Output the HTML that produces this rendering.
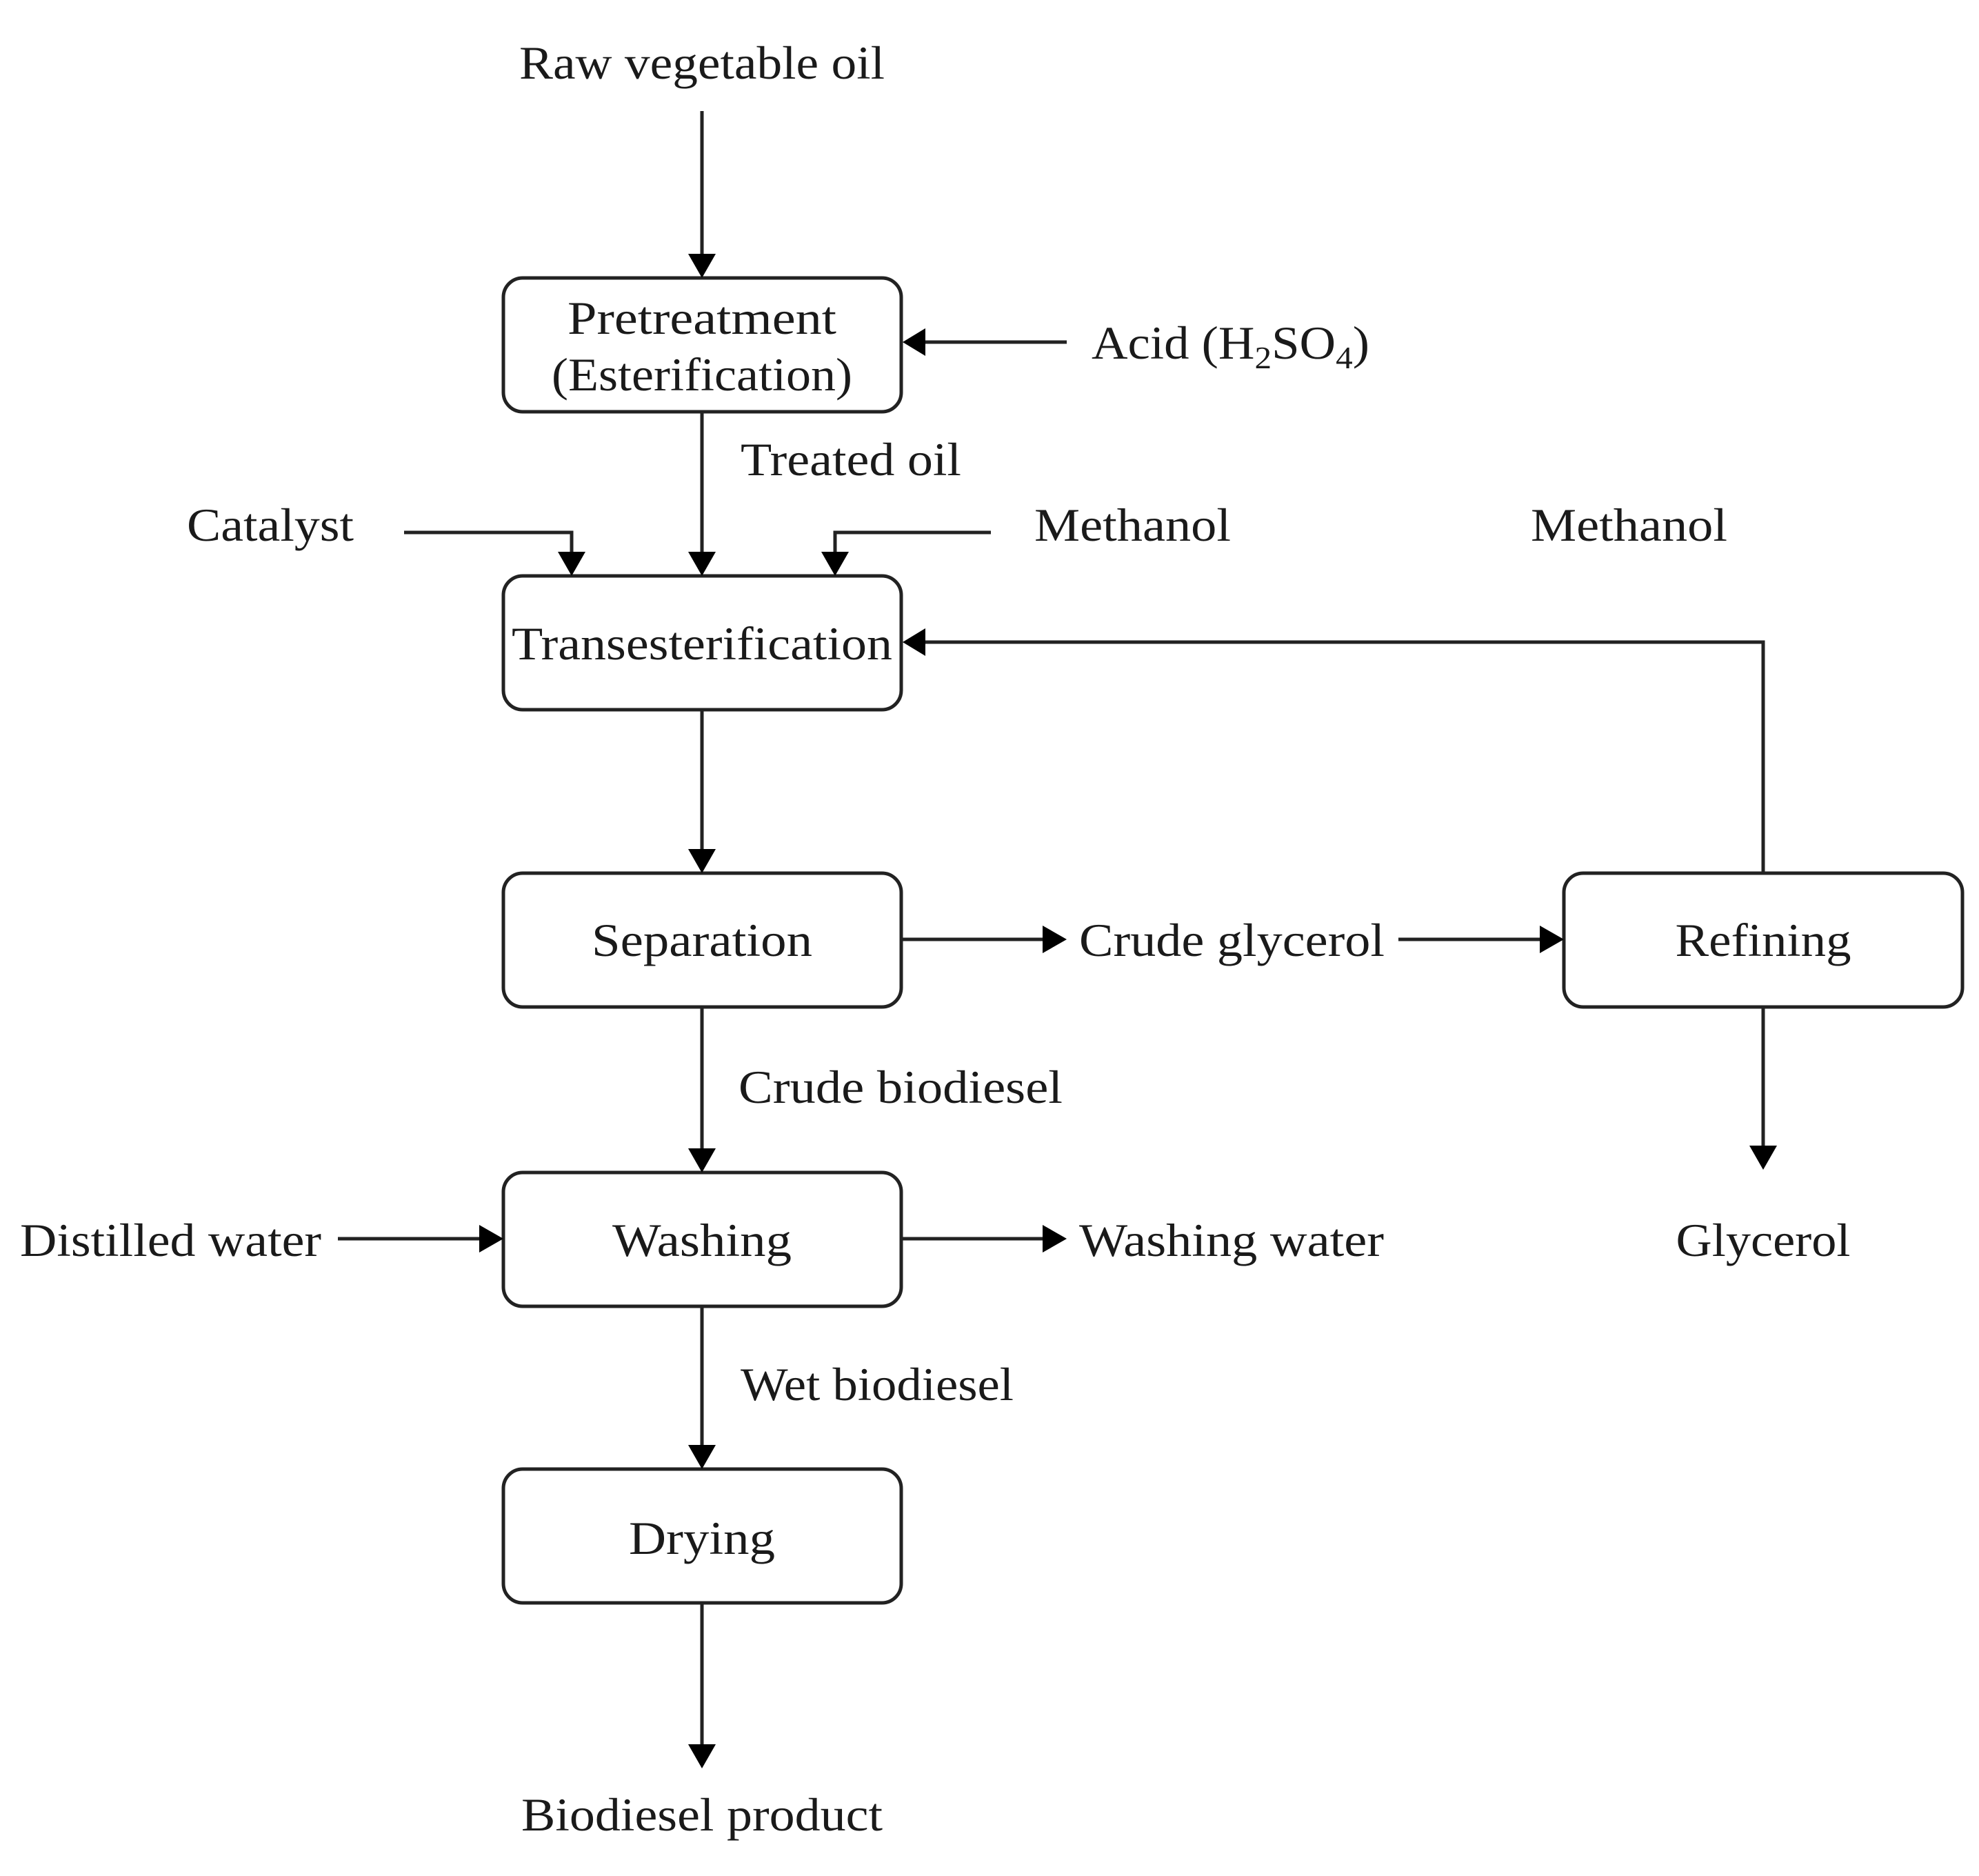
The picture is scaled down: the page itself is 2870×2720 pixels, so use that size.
<!DOCTYPE html>
<html><head><meta charset="utf-8"><style>
html,body{margin:0;padding:0;background:#fff}
svg{display:block}
text{font-family:"Liberation Serif",serif;font-size:68px;fill:#1a1a1a}
</style></head><body>
<svg width="2870" height="2720" viewBox="0 0 2870 2720" xmlns="http://www.w3.org/2000/svg">
<g fill="none" stroke="#222" stroke-width="5">
<rect x="730" y="403" width="577" height="194" rx="28"/>
<rect x="730" y="835" width="577" height="194" rx="28"/>
<rect x="730" y="1266" width="577" height="194" rx="28"/>
<rect x="730" y="1700" width="577" height="194" rx="28"/>
<rect x="730" y="2130" width="577" height="194" rx="28"/>
<rect x="2268" y="1266" width="578" height="194" rx="28"/>
<path d="M1018 161V372"/>
<path d="M1547 496H1340"/>
<path d="M1018 597V804"/>
<path d="M586 772H829V804"/>
<path d="M1437 772H1211V804"/>
<path d="M2557 1266V931H1340"/>
<path d="M1018 1029V1235"/>
<path d="M1307 1362H1516"/>
<path d="M2028 1362H2237"/>
<path d="M1018 1460V1669"/>
<path d="M2557 1460V1665"/>
<path d="M490 1796H699"/>
<path d="M1307 1796H1516"/>
<path d="M1018 1894V2099"/>
<path d="M1018 2324V2533"/>
</g>
<g fill="#000">
<path d="M998 368L1038 368L1018 403Z"/>
<path d="M1342 476L1342 516L1309 496Z"/>
<path d="M998 800L1038 800L1018 835Z"/>
<path d="M809 800L849 800L829 835Z"/>
<path d="M1191 800L1231 800L1211 835Z"/>
<path d="M1342 911L1342 951L1309 931Z"/>
<path d="M998 1231L1038 1231L1018 1266Z"/>
<path d="M1512 1342L1512 1382L1547 1362Z"/>
<path d="M2233 1342L2233 1382L2268 1362Z"/>
<path d="M998 1665L1038 1665L1018 1700Z"/>
<path d="M2537 1661L2577 1661L2557 1696Z"/>
<path d="M695 1776L695 1816L730 1796Z"/>
<path d="M1512 1776L1512 1816L1547 1796Z"/>
<path d="M998 2095L1038 2095L1018 2130Z"/>
<path d="M998 2529L1038 2529L1018 2564Z"/>
</g>
<g>
<text x="1018" y="114" text-anchor="middle" textLength="530" lengthAdjust="spacingAndGlyphs">Raw vegetable oil</text>
<text x="1018" y="484" text-anchor="middle" textLength="390" lengthAdjust="spacingAndGlyphs">Pretreatment</text>
<text x="1018" y="566" text-anchor="middle" textLength="436" lengthAdjust="spacingAndGlyphs">(Esterification)</text>
<text x="1583" y="520" textLength="403" lengthAdjust="spacingAndGlyphs">Acid (H<tspan font-size="46" dy="14">2</tspan><tspan dy="-14">SO</tspan><tspan font-size="46" dy="14">4</tspan><tspan dy="-14">)</tspan></text>
<text x="1074" y="689" textLength="320" lengthAdjust="spacingAndGlyphs">Treated oil</text>
<text x="271" y="784" textLength="242" lengthAdjust="spacingAndGlyphs">Catalyst</text>
<text x="1500" y="784" textLength="285" lengthAdjust="spacingAndGlyphs">Methanol</text>
<text x="2220" y="784" textLength="285" lengthAdjust="spacingAndGlyphs">Methanol</text>
<text x="1018" y="956" text-anchor="middle" textLength="552" lengthAdjust="spacingAndGlyphs">Transesterification</text>
<text x="1018" y="1386" text-anchor="middle" textLength="320" lengthAdjust="spacingAndGlyphs">Separation</text>
<text x="1565" y="1386" textLength="443" lengthAdjust="spacingAndGlyphs">Crude glycerol</text>
<text x="2557" y="1386" text-anchor="middle" textLength="255" lengthAdjust="spacingAndGlyphs">Refining</text>
<text x="1071" y="1599" textLength="470" lengthAdjust="spacingAndGlyphs">Crude biodiesel</text>
<text x="29" y="1821" textLength="437" lengthAdjust="spacingAndGlyphs">Distilled water</text>
<text x="1018" y="1821" text-anchor="middle" textLength="260" lengthAdjust="spacingAndGlyphs">Washing</text>
<text x="1565" y="1821" textLength="442" lengthAdjust="spacingAndGlyphs">Washing water</text>
<text x="2557" y="1821" text-anchor="middle" textLength="253" lengthAdjust="spacingAndGlyphs">Glycerol</text>
<text x="1074" y="2030" textLength="396" lengthAdjust="spacingAndGlyphs">Wet biodiesel</text>
<text x="1018" y="2253" text-anchor="middle" textLength="212" lengthAdjust="spacingAndGlyphs">Drying</text>
<text x="1018" y="2654" text-anchor="middle" textLength="524" lengthAdjust="spacingAndGlyphs">Biodiesel product</text>
</g>
</svg>
</body></html>
